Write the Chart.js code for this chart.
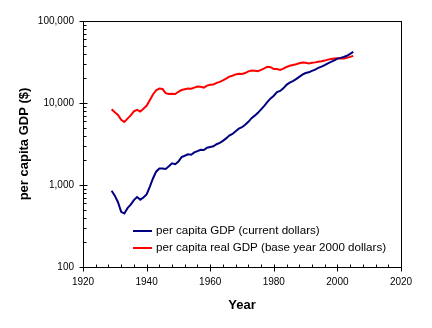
<!DOCTYPE html>
<html>
<head>
<meta charset="utf-8">
<script src="https://cdn.jsdelivr.net/npm/chart.js@4.4.0/dist/chart.umd.min.js"></script>
<style>
  html, body { margin: 0; padding: 0; background: #fff; }
  #wrap { width: 432px; height: 328px; }
</style>
</head>
<body>
<div id="wrap"><canvas id="gdpChart"></canvas></div>
<script>
const years = [1929, 1930, 1931, 1932, 1933, 1934, 1935, 1936, 1937, 1938, 1939,
  1940, 1941, 1942, 1943, 1944, 1945, 1946, 1947, 1948, 1949,
  1950, 1951, 1952, 1953, 1954, 1955, 1956, 1957, 1958, 1959,
  1960, 1961, 1962, 1963, 1964, 1965, 1966, 1967, 1968, 1969,
  1970, 1971, 1972, 1973, 1974, 1975, 1976, 1977, 1978, 1979,
  1980, 1981, 1982, 1983, 1984, 1985, 1986, 1987, 1988, 1989,
  1990, 1991, 1992, 1993, 1994, 1995, 1996, 1997, 1998, 1999,
  2000, 2001, 2002, 2003, 2004, 2005];

// per capita GDP, current dollars
const gdpCurrent = [851, 741, 617, 470, 449, 522, 576, 654, 713, 663, 704,
  768, 950, 1200, 1453, 1588, 1594, 1571, 1694, 1836, 1791,
  1928, 2190, 2273, 2368, 2334, 2500, 2590, 2681, 2671, 2849,
  2913, 2965, 3140, 3265, 3458, 3701, 4007, 4190, 4534, 4857,
  5063, 5427, 5899, 6525, 7013, 7585, 8373, 9223, 10309, 11387,
  12251, 13602, 14018, 15095, 16645, 17695, 18541, 19520, 20832, 22177,
  23203, 23653, 24670, 25576, 26850, 27748, 28983, 30430, 31681, 33184,
  34763, 35499, 36340, 37692, 39816, 41978];

// per capita real GDP, base year 2000 dollars
const gdpReal = [8380, 7700, 7150, 6250, 5870, 6450, 7050, 7900, 8250, 7850, 8500,
  9250, 10800, 12700, 14300, 15000, 14800, 13200, 12900, 13000, 12850,
  13700, 14400, 14700, 15000, 14900, 15400, 15900, 15800, 15400, 16300,
  16700, 16800, 17600, 18100, 18900, 19800, 21000, 21500, 22300, 22700,
  22600, 23200, 24300, 24900, 24700, 24400, 25400, 26400, 27700, 27300,
  25900, 26000, 25300, 26200, 27500, 28400, 29100, 29700, 30500, 31100,
  30900, 30400, 30900, 31300, 31900, 32300, 32900, 33800, 34400, 34900,
  35200, 34900, 35000, 35500, 36500, 37600];

const seriesLabels = ['per capita GDP (current dollars)', 'per capita real GDP (base year 2000 dollars)'];
const seriesColors = ['#000080', '#ff0000'];
const xTicks = [1920, 1940, 1960, 1980, 2000, 2020];
const yTicks = [100, 1000, 10000, 100000];

// frame plus tick marks: major ticks cross the axis, minor ones point inward
const frameTicks = {
  id: 'frameTicks',
  afterDraw(chart) {
    const { ctx, chartArea: a, scales: { x, y } } = chart;
    const L = Math.round(a.left) + 0.5, R = Math.round(a.right) + 0.5;
    const T = Math.round(a.top) + 0.5, B = Math.round(a.bottom) + 0.5;
    ctx.save();
    ctx.strokeStyle = '#000';
    ctx.lineWidth = 1;
    ctx.strokeRect(L, T, R - L, B - T);
    ctx.beginPath();
    for (let v = 1920; v <= 2020; v += 4) {
      const px = Math.round(x.getPixelForValue(v)) + 0.5;
      const major = v % 20 === 0;
      ctx.moveTo(px, B - 3);
      ctx.lineTo(px, major ? B + 4 : B);
    }
    yTicks.forEach(d => {
      const py = Math.round(y.getPixelForValue(d)) + 0.5;
      ctx.moveTo(L - 4, py);
      ctx.lineTo(L + 4, py);
      if (d < 100000) {
        for (let k = 2; k <= 9; k++) {
          const my = Math.round(y.getPixelForValue(d * k)) + 0.5;
          ctx.moveTo(L, my);
          ctx.lineTo(L + 3, my);
        }
      }
    });
    ctx.stroke();
    ctx.restore();
  }
};

// legend drawn inside the plot, lower middle
const innerLegend = {
  id: 'innerLegend',
  afterDatasetsDraw(chart) {
    const { ctx, chartArea: a } = chart;
    ctx.save();
    ctx.font = '11.6px "Liberation Sans", Arial, sans-serif';
    ctx.textBaseline = 'middle';
    ctx.fillStyle = '#000';
    chart.data.datasets.forEach((ds, i) => {
      const ly = a.top + 210 + i * 17;
      ctx.strokeStyle = ds.borderColor;
      ctx.lineWidth = 2;
      ctx.beginPath();
      ctx.moveTo(a.left + 50, ly);
      ctx.lineTo(a.left + 69, ly);
      ctx.stroke();
      ctx.fillText(ds.label, a.left + 73, ly);
    });
    ctx.restore();
  }
};

const ctx = document.getElementById('gdpChart').getContext('2d');
const gdpChart = new Chart(ctx, {
  type: 'line',
  data: {
    datasets: [
      {
        label: seriesLabels[0],
        data: years.map((yr, i) => ({ x: yr, y: gdpCurrent[i] })),
        borderColor: seriesColors[0],
        borderWidth: 2,
        pointRadius: 0,
        tension: 0
      },
      {
        label: seriesLabels[1],
        data: years.map((yr, i) => ({ x: yr, y: gdpReal[i] })),
        borderColor: seriesColors[1],
        borderWidth: 2,
        pointRadius: 0,
        tension: 0
      }
    ]
  },
  options: {
    responsive: true,
    maintainAspectRatio: false,
    animation: false,
    layout: { padding: { top: 21, right: 31, left: 0, bottom: 0 } },
    plugins: {
      legend: { display: false },
      tooltip: { enabled: false }
    },
    scales: {
      x: {
        type: 'linear',
        min: 1920,
        max: 2020,
        afterBuildTicks: s => { s.ticks = xTicks.map(v => ({ value: v })); },
        afterFit: s => { s.height = 61; },
        grid: { display: false, drawTicks: false },
        border: { display: false },
        ticks: {
          color: '#000',
          padding: 9,
          maxRotation: 0,
          font: { family: '"Liberation Sans", Arial, sans-serif', size: 10 },
          callback: v => String(v)
        },
        title: {
          display: true,
          text: 'Year',
          color: '#000',
          font: { family: '"Liberation Sans", Arial, sans-serif', size: 13, weight: 'bold' },
          padding: { top: 0, bottom: 15 }
        }
      },
      y: {
        type: 'logarithmic',
        min: 100,
        max: 100000,
        afterBuildTicks: s => { s.ticks = yTicks.map(v => ({ value: v })); },
        afterFit: s => { s.width = 83; },
        grid: { display: false, drawTicks: false },
        border: { display: false },
        ticks: {
          color: '#000',
          padding: 9,
          font: { family: '"Liberation Sans", Arial, sans-serif', size: 10 },
          callback: v => Number(v).toLocaleString('en-US')
        },
        title: {
          display: true,
          text: 'per capita GDP ($)',
          color: '#000',
          font: { family: '"Liberation Sans", Arial, sans-serif', size: 13, weight: 'bold' },
          padding: { top: 17, bottom: 0 }
        }
      }
    }
  },
  plugins: [frameTicks, innerLegend]
});
</script>
</body>
</html>
